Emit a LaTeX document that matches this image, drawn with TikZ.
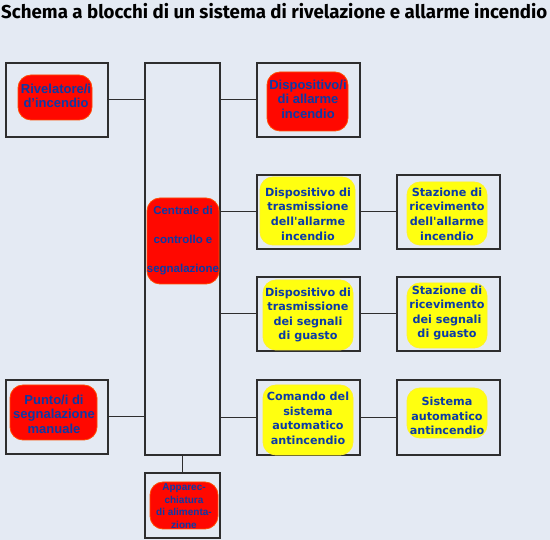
\documentclass[tikz,border=0pt]{standalone}
\usepackage{fontspec}
\usepackage{graphicx}
\setmainfont{Liberation Sans}
\newfontfamily\dvfont{DejaVu Sans}
\newfontfamily\ttlfont{Fira Sans}
\definecolor{bg}{HTML}{E4EAF3}
\definecolor{txt}{HTML}{0A3AA8}
\definecolor{ln}{HTML}{2E2E2E}
\definecolor{hired}{HTML}{FF0800}
\definecolor{hiyel}{HTML}{FFFF10}
\begin{document}
\begin{tikzpicture}[x=1pt,y=-1pt,
  box/.style={draw=ln, line width=1.4pt, fill=bg, inner sep=0pt},
  conn/.style={draw=ln, line width=1pt},
  redblob/.style={fill=hired, draw=orange!60!red, line width=0.8pt, rounded corners=13pt, inner sep=0pt},
  yelblob/.style={fill=hiyel, draw=yellow!85!white, line width=0.8pt, rounded corners=13pt, inner sep=0pt},
  redtxt/.style={text=txt, align=center, inner sep=0pt, font=\fontsize{13}{14.5}\selectfont\bfseries},
  yeltxt/.style={text=txt, align=center, inner sep=0pt, font=\dvfont\fontsize{11.2}{14.6}\selectfont\bfseries}
]
\fill[bg] (0,0) rectangle (550,540);
\useasboundingbox (0,0) rectangle (550,540);

% title
\node[anchor=base west, inner sep=0pt] (title) at (1,19)
  {\resizebox{546pt}{!}{\ttlfont\bfseries Schema a blocchi di un sistema di rivelazione e allarme incendio}};

% boxes
\node[box, minimum width=102pt, minimum height=74pt] (riv) at (57,100) {};
\node[box, minimum width=75pt, minimum height=392pt] (cen) at (182.5,259) {};
\node[box, minimum width=103pt, minimum height=74pt] (dis) at (308.5,100) {};
\node[box, minimum width=103pt, minimum height=74pt] (tra) at (308.5,212) {};
\node[box, minimum width=103pt, minimum height=74pt] (sta) at (448.5,212) {};
\node[box, minimum width=103pt, minimum height=74pt] (trg) at (308.5,314) {};
\node[box, minimum width=103pt, minimum height=74pt] (stg) at (448.5,314) {};
\node[box, minimum width=103pt, minimum height=75pt] (com) at (308.5,417.5) {};
\node[box, minimum width=103pt, minimum height=75pt] (sis) at (448.5,417.5) {};
\node[box, minimum width=102pt, minimum height=74pt] (pun) at (57,417) {};
\node[box, minimum width=75pt, minimum height=65pt] (app) at (182.5,505.5) {};

% connectors
\draw[conn] (riv.east) -- (riv.east -| cen.west);
\draw[conn] (pun.east) -- (pun.east -| cen.west);
\draw[conn] (dis.west) -- (dis.west -| cen.east);
\draw[conn] (tra.west) -- (tra.west -| cen.east);
\draw[conn] (trg.west) -- (trg.west -| cen.east);
\draw[conn] (com.west) -- (com.west -| cen.east);
\draw[conn] (tra.east) -- (sta.west);
\draw[conn] (trg.east) -- (stg.west);
\draw[conn] (com.east) -- (sis.west);
\draw[conn] (cen.south) -- (app.north);

% highlight blobs
\node[redblob, minimum width=74pt, minimum height=45pt] (rivb) at (55,97.5) {};
\node[redblob, minimum width=81pt, minimum height=59pt] (disb) at (307.5,101.5) {};
\node[redblob, minimum width=72pt, minimum height=86pt] (cenb) at (183,241) {};
\node[redblob, minimum width=87pt, minimum height=55pt] (punb) at (53.5,412.5) {};
\node[redblob, minimum width=68pt, minimum height=47pt] (appb) at (184,505.5) {};
\node[yelblob, minimum width=95pt, minimum height=68pt] (trab) at (307.5,211) {};
\node[yelblob, minimum width=80pt, minimum height=63pt] (stab) at (447,213.5) {};
\node[yelblob, minimum width=90pt, minimum height=70pt] (trgb) at (308,315) {};
\node[yelblob, minimum width=80pt, minimum height=65pt] (stgb) at (447,315.5) {};
\node[yelblob, minimum width=90pt, minimum height=70pt] (comb) at (308,420) {};
\node[yelblob, minimum width=80pt, minimum height=50pt] (sisb) at (447,413) {};

% texts
\node[redtxt] (rivt) at (56,96) {Rivelatore/i\\d'incendio};
\node[redtxt] (dist) at (308,99) {Dispositivo/i\\di allarme\\incendio};
\node[redtxt, font=\fontsize{11.5}{29}\selectfont\bfseries] (cent) at (183,241) {Centrale di\\controllo e\\segnalazione};
\node[redtxt] (punt) at (54,414) {Punto/i di\\segnalazione\\manuale};
\node[redtxt, font=\fontsize{10}{12.7}\selectfont\bfseries] (appt) at (184,506) {Apparec-\\chiatura\\di alimenta-\\zione};
\node[yeltxt] (trat) at (308,214) {Dispositivo di\\trasmissione\\dell'allarme\\incendio};
\node[yeltxt] (stat) at (447,214) {Stazione di\\ricevimento\\dell'allarme\\incendio};
\node[yeltxt] (trgt) at (308,315) {Dispositivo di\\trasmissione\\dei segnali\\di guasto};
\node[yeltxt] (stgt) at (447,313) {Stazione di\\ricevimento\\dei segnali\\di guasto};
\node[yeltxt] (comt) at (308,418.5) {Comando del\\sistema\\automatico\\antincendio};
\node[yeltxt] (sist) at (447,416) {Sistema\\automatico\\antincendio};
\end{tikzpicture}
\end{document}
